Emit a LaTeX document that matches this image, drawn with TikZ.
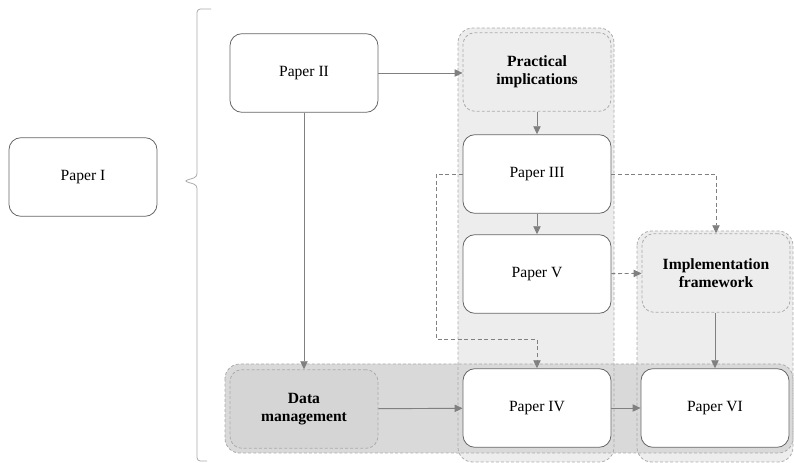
\documentclass[tikz,border=0pt]{standalone}
\usepackage{fontspec}
\setmainfont{Liberation Serif}
\usetikzlibrary{arrows.meta}

\definecolor{boxline}{HTML}{666666}
\definecolor{linkgray}{HTML}{808080}
\definecolor{groupline}{HTML}{ABABAB}
\definecolor{colfill}{HTML}{EDEDED}
\definecolor{bandfill}{HTML}{D9D9D9}
\definecolor{datafill}{HTML}{D5D5D5}

\tikzset{
  paper/.style={draw=boxline,fill=white,rounded corners=9pt,line width=0.6pt,
    minimum width=111pt,minimum height=59pt,inner sep=0pt,align=center,
    font=\fontsize{11.7}{13.5}\selectfont},
  topic/.style={paper,draw=groupline,dashed,dash pattern=on 2.2pt off 1.6pt,
    fill=colfill,font=\fontsize{11.7}{13.5}\selectfont\bfseries},
  group/.style={draw=groupline,line width=0.6pt,dash pattern=on 2.2pt off 1.6pt,
    rounded corners=11pt},
  link/.style={draw=linkgray,line width=0.7pt,-{Triangle[length=6pt,width=5.5pt]}},
  dlink/.style={link,dash pattern=on 3pt off 2pt}
}

\begin{document}
\begin{tikzpicture}[x=0.75pt,y=-0.75pt]
  \useasboundingbox (0,0) rectangle (794,463);

  % groups behind the boxes
  \fill[colfill,rounded corners=11pt] (458,28) rectangle (614,462);
  \fill[colfill,rounded corners=11pt] (637,231) rectangle (793,462);
  \fill[bandfill,rounded corners=11pt] (225,364) rectangle (793,453);
  \draw[group] (458,28) rectangle (614,462);
  \draw[group] (637,231) rectangle (793,462);
  \draw[group] (225,364) rectangle (793,453);

  % brace
  \draw[groupline,line width=0.6pt,rounded corners=2.5pt]
    (211,9) -- (197,9) -- (197,177) -- (184,181) -- (197,185) -- (197,461) -- (207,461);

  \node[paper] (p1) at (83,177) {Paper I};
  \node[paper] (p2) at (304,73) {Paper II};
  \node[topic] (prac) at (537,72) {Practical\\implications};
  \node[paper] (p3) at (537,174) {Paper III};
  \node[paper] (p5) at (537,274) {Paper V};
  \node[topic] (impl) at (716,273) {Implementation\\framework};
  \node[topic,fill=datafill] (data) at (304,409) {Data\\management};
  \node[paper] (p4) at (537,408) {Paper IV};
  \node[paper] (p6) at (715,408) {Paper VI};

  \coordinate (bend) at (436,339);

  \draw[link] (p2.east) -- (p2.east -| prac.west);
  \draw[link] (prac) -- (p3);
  \draw[link] (p3) -- (p5);
  \draw[link] (p2) -- (data);
  \draw[link] (data) -- (p4);
  \draw[link] (p4) -- (p6);
  \draw[link] (impl.south -| p6.north) -- (p6);
  \draw[dlink] (p5) -- (impl);
  \draw[dlink] (p3.east) -| (impl.north);
  \draw[dlink] (p3.west) -| (bend) -| (p4.north);
\end{tikzpicture}
\end{document}
